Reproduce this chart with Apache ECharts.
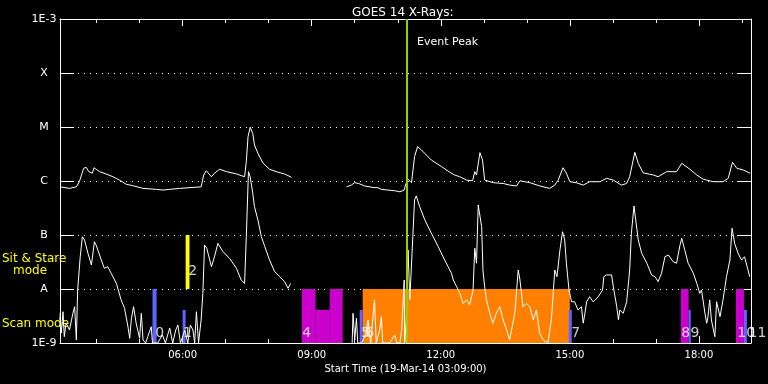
<!DOCTYPE html>
<html>
<head>
<meta charset="utf-8">
<script src="https://cdn.jsdelivr.net/npm/echarts@6/dist/echarts.min.js"></script>
<style>html,body{margin:0;padding:0;background:#000;}#c{width:768px;height:384px;}</style>
</head>
<body>
<div id="c"></div>
<script>
// ---- data (hours of 19-Mar-2014, flux W/m^2) ----
const titleText = 'GOES 14 X-Rays:';
const xAxisName = 'Start Time (19-Mar-14 03:09:00)';
const startHour = 3.15;
const endHour = 19.21;
const majorHours = [6, 9, 12, 15, 18];
const minorHours = [4, 5, 6, 7, 8, 9, 10, 11, 12, 13, 14, 15, 16, 17, 18, 19];
const yTickLabels = ['1E-9', 'A', 'B', 'C', 'M', 'X', '1E-3']; // 1e-9 ... 1e-3
const eventPeakHour = 11.2;

const longChannel = [
[3.15,7.8e-7],[3.37,7.3e-7],[3.53,7.8e-7],[3.60,9.7e-7],[3.70,1.72e-6],[3.76,1.79e-6],[3.82,1.49e-6],[3.90,1.39e-6],
[3.94,1.76e-6],[3.99,1.65e-6],[4.07,1.49e-6],[4.22,1.35e-6],[4.38,1.2e-6],[4.53,1.04e-6],[4.69,8.7e-7],[4.84,8.2e-7],
[5.08,7.3e-7],[5.39,7.0e-7],[5.54,6.8e-7],[5.70,7.0e-7],[5.93,7.3e-7],[6.24,7.6e-7],[6.43,7.8e-7],[6.49,1.29e-6],
[6.55,1.55e-6],[6.67,1.2e-6],[6.74,1.39e-6],[6.86,1.65e-6],[7.02,1.49e-6],[7.25,1.35e-6],[7.44,1.2e-6],[7.48,2.28e-6],
[7.52,6.6e-6],[7.57,9.9e-6],[7.63,7.6e-6],[7.67,4.64e-6],[7.75,3.26e-6],[7.87,2.13e-6],[8.02,1.65e-6],[8.22,1.45e-6],
[8.37,1.35e-6],[8.53,1.17e-6],[8.9,null],
[9.81,7.8e-7],[9.92,8.4e-7],[10.0,9.3e-7],[10.09,9.0e-7],[10.23,8.1e-7],[10.42,7.6e-7],[10.54,7.5e-7],[10.62,7.0e-7],
[10.77,6.8e-7],[10.93,6.6e-7],[11.05,6.3e-7],[11.15,6.8e-7],[11.18,8.4e-7],[11.24,1.08e-6],[11.32,9.3e-7],[11.35,9.0e-7],
[11.39,2.82e-6],[11.46,4.32e-6],[11.55,3.75e-6],[11.78,2.45e-6],[12.02,1.84e-6],[12.21,1.45e-6],[12.32,1.29e-6],[12.44,1.2e-6],
[12.60,1.04e-6],[12.74,1.01e-6],[12.79,1.49e-6],[12.83,1.29e-6],[12.91,3.34e-6],[12.97,2.45e-6],[13.02,1.04e-6],[13.22,9.3e-7],
[13.45,9.0e-7],[13.60,8.4e-7],[13.76,8.1e-7],[13.84,1.01e-6],[14.07,9.3e-7],[14.30,8.1e-7],[14.53,7.3e-7],[14.65,8.4e-7],
[14.73,1.04e-6],[14.84,1.76e-6],[14.92,1.39e-6],[15.0,9.7e-7],[15.15,9.3e-7],[15.31,8.4e-7],[15.46,9.7e-7],[15.70,9.7e-7],
[15.85,1.12e-6],[16.01,1.04e-6],[16.2,8.4e-7],[16.32,9.0e-7],[16.39,1.2e-6],[16.51,3.4e-6],[16.59,2.13e-6],[16.70,1.42e-6],
[16.94,1.29e-6],[17.05,1.2e-6],[17.25,1.49e-6],[17.48,1.49e-6],[17.60,2.13e-6],[17.79,1.65e-6],[17.95,1.29e-6],[18.10,1.08e-6],
[18.33,9.7e-7],[18.56,9.7e-7],[18.68,1.12e-6],[18.78,2.22e-6],[18.88,1.72e-6],[19.03,1.6e-6],[19.19,1.39e-6]
];

const shortChannel = [
[3.15,3.55e-9],[3.18,1.53e-9],[3.22,3.8e-9],[3.25,1.31e-9],[3.29,2.35e-9],[3.37,1.74e-9],[3.45,3.55e-9],[3.49,4.7e-9],
[3.53,1.14e-9],[3.56,9.6e-9],[3.62,3.96e-8],[3.67,9.3e-8],[3.72,8.1e-8],[3.80,4.58e-8],[3.88,2.78e-8],[3.95,7.5e-8],
[3.99,6.5e-8],[4.11,3.44e-8],[4.18,2.42e-8],[4.26,2.59e-8],[4.34,1.95e-8],[4.46,1.27e-8],[4.57,6.3e-9],[4.65,4.4e-9],
[4.73,2.0e-9],[4.77,1.22e-9],[4.81,2.87e-9],[4.86,4.7e-9],[4.92,2.32e-9],[5.0,1.22e-9],[5.04,3.55e-9],[5.08,1.14e-9],
[5.14,1e-9],[5.19,1.31e-9],[5.27,2.0e-9],[5.30,1e-9],[5.42,1e-9],[5.53,1.41e-9],[5.60,1e-9],[5.70,1.9e-9],
[5.77,1e-9],[5.84,1.74e-9],[5.89,2.15e-9],[5.95,1e-9],[6.05,1.74e-9],[6.12,1e-9],[6.18,2.15e-9],[6.24,1.74e-9],
[6.28,1e-9],[6.32,3.8e-9],[6.37,1e-9],[6.43,2.67e-9],[6.47,8.3e-9],[6.51,6.5e-8],[6.56,5.7e-8],[6.67,2.59e-8],
[6.74,3.96e-8],[6.82,7.0e-8],[6.94,4.9e-8],[7.09,3.7e-8],[7.25,2.42e-8],[7.36,1.47e-8],[7.44,1.27e-8],[7.48,9.3e-8],
[7.53,1.49e-6],[7.57,1.2e-6],[7.63,5.9e-7],[7.67,3.34e-7],[7.75,1.9e-7],[7.83,9.3e-8],[7.91,6.1e-8],[8.02,3.44e-8],
[8.14,2.09e-8],[8.26,1.69e-8],[8.37,1.37e-8],[8.45,1.03e-8],[8.51,1.27e-8],[8.9,null],
[9.94,1e-9],[9.96,3.55e-9],[10.0,1.14e-9],[10.04,2.9e-9],[10.07,1e-9],[10.16,1e-9],[10.25,1.41e-9],[10.31,2.67e-9],
[10.37,1e-9],[10.46,6.3e-9],[10.50,1e-9],[10.58,1.74e-9],[10.62,3.07e-9],[10.65,1e-9],[10.81,1e-9],[10.93,1.41e-9],
[10.98,1e-9],[11.05,1e-9],[11.09,1.74e-9],[11.15,1.47e-8],[11.16,1e-9],[11.2,2.67e-9],[11.24,5.3e-8],[11.28,6.3e-9],
[11.32,6.7e-9],[11.35,9.3e-8],[11.39,4.45e-7],[11.43,5.3e-7],[11.51,3.34e-7],[11.63,1.9e-7],[11.78,1.08e-7],[11.94,6.1e-8],
[12.09,3.44e-8],[12.17,2.59e-8],[12.25,1.95e-8],[12.29,1.47e-8],[12.37,1.1e-8],[12.44,8.3e-9],[12.52,5.4e-9],[12.60,6.3e-9],
[12.67,5.05e-9],[12.75,9.6e-9],[12.79,5.7e-8],[12.83,3.0e-8],[12.87,3.59e-7],[12.91,3.59e-7],[12.95,1.42e-7],[12.98,2.25e-8],
[13.02,1.1e-8],[13.06,6.3e-9],[13.14,3.55e-9],[13.21,2.32e-9],[13.29,3.55e-9],[13.37,4.7e-9],[13.45,2.67e-9],[13.53,1.74e-9],
[13.60,1.14e-9],[13.72,3.55e-9],[13.80,2.25e-8],[13.84,1.47e-8],[13.91,4.7e-9],[13.99,5.4e-9],[14.07,4.7e-9],[14.15,2.67e-9],
[14.22,4.08e-9],[14.30,1.51e-9],[14.38,1.14e-9],[14.49,1e-9],[14.57,2.67e-9],[14.65,2.25e-8],[14.70,1.69e-8],[14.77,5.3e-8],
[14.83,1.15e-7],[14.88,8.1e-8],[14.92,3.0e-8],[14.98,9.6e-9],[15.04,5.8e-9],[15.11,5.8e-9],[15.19,4.08e-9],[15.27,4.7e-9],
[15.31,2.32e-9],[15.35,3.55e-9],[15.39,5.8e-9],[15.46,7.2e-9],[15.54,5.8e-9],[15.66,7.2e-9],[15.76,9.6e-9],[15.79,1.69e-8],
[15.85,1.82e-8],[15.97,1.82e-8],[16.01,1.1e-8],[16.09,4.7e-9],[16.13,2.67e-9],[16.16,4.08e-9],[16.24,3.55e-9],[16.32,5.8e-9],
[16.39,2.25e-8],[16.43,1.08e-7],[16.49,3.44e-7],[16.53,1.9e-7],[16.59,8.1e-8],[16.67,4.58e-8],[16.79,3.0e-8],[16.90,1.82e-8],
[16.98,1.69e-8],[17.05,1.37e-8],[17.13,1.95e-8],[17.21,3.96e-8],[17.29,4.26e-8],[17.40,3.2e-8],[17.48,3.0e-8],[17.56,6.5e-8],
[17.60,8.7e-8],[17.67,5.3e-8],[17.75,3.0e-8],[17.87,1.95e-8],[17.95,1.27e-8],[18.02,8.3e-9],[18.06,9.6e-9],[18.14,3.55e-9],
[18.18,2.32e-9],[18.21,3.07e-9],[18.25,6.3e-9],[18.29,2.67e-9],[18.37,1.31e-9],[18.41,5.8e-9],[18.49,3.07e-9],[18.56,6.3e-9],
[18.64,1.69e-8],[18.72,3.44e-8],[18.77,1.33e-7],[18.83,7.0e-8],[18.91,4.58e-8],[18.99,3.44e-8],[19.06,3.96e-8],[19.14,2.25e-8],
[19.18,1.69e-8]
];

// observing-mode blocks: [startHour, endHour, lowFlux, highFlux]
const orangeBlocks = [[10.185, 15.0, 1e-9, 1e-8]];
const magentaBlocks = [[8.77, 9.09, 1e-9, 1e-8], [9.09, 9.42, 1e-9, 4.1e-9], [9.42, 9.72, 1e-9, 1e-8],
  [17.58, 17.76, 1e-9, 1e-8], [18.86, 19.045, 1e-9, 1e-8]];
const blueBlocks = [[5.30, 5.395, 1e-9, 1e-8], [6.0, 6.07, 1e-9, 4.1e-9], [10.115, 10.185, 1e-9, 4.1e-9],
  [14.975, 15.045, 1e-9, 4.1e-9], [17.76, 17.81, 1e-9, 4.1e-9], [19.045, 19.115, 1e-9, 4.1e-9]];
const yellowBlocks = [[6.07, 6.16, 1e-8, 1e-7]];

// block numbers: [hour, flux, label]
const blockLabels = [[5.35, 1.53e-9, '0'], [6.0, 1.53e-9, '1'], [6.12, 2.15e-8, '2'], [8.77, 1.53e-9, '4'],
  [10.14, 1.53e-9, '5'], [10.23, 1.53e-9, '6'], [15.02, 1.53e-9, '7'], [17.58, 1.53e-9, '8'],
  [17.79, 1.53e-9, '9'], [18.88, 1.53e-9, '10'], [19.14, 1.53e-9, '11']];

// ---- chart ----
const FONT = 'DejaVu Sans';
const pad = h => (h < 10 ? '0' : '') + h + ':00';

function renderBlock(params, api) {
  const p0 = api.coord([api.value(0), api.value(3)]);
  const p1 = api.coord([api.value(1), api.value(2)]);
  return { type: 'rect', shape: { x: p0[0], y: p0[1], width: p1[0] - p0[0], height: p1[1] - p0[1] },
           style: { fill: api.visual('color') } };
}
function blockSeries(data, color) {
  return { type: 'custom', renderItem: renderBlock, data: data, encode: { x: [0, 1], y: [2, 3] },
           itemStyle: { color: color }, z: 1, silent: true };
}

const xBase = { type: 'value', min: startHour, max: endHour, splitLine: { show: false } };
const white = { color: '#ffffff', width: 1 };

const chart = echarts.init(document.getElementById('c'), null, { renderer: 'canvas' });
chart.setOption({
  animation: false,
  backgroundColor: '#000000',
  textStyle: { fontFamily: FONT, color: '#ffffff' },
  title: { text: titleText, left: 347, top: 2,
           textStyle: { color: '#ffffff', fontFamily: FONT, fontSize: 12, fontWeight: 'normal' } },
  grid: { left: 60, right: 17, top: 19, bottom: 41 },
  xAxis: [
    Object.assign({}, xBase, { position: 'bottom', axisLine: { lineStyle: white },
      axisTick: { inside: true, length: 4, lineStyle: white, customValues: minorHours },
      axisLabel: { customValues: majorHours, formatter: v => pad(Math.round(v)), color: '#ffffff',
                   fontFamily: FONT, fontSize: 10, margin: 7 },
      name: xAxisName, nameLocation: 'middle', nameGap: 20,
      nameTextStyle: { color: '#ffffff', fontFamily: FONT, fontSize: 10 } }),
    Object.assign({}, xBase, { position: 'bottom', axisLine: { show: false },
      axisTick: { inside: true, length: 7, lineStyle: white, customValues: majorHours },
      axisLabel: { show: false } }),
    Object.assign({}, xBase, { position: 'top', axisLine: { lineStyle: white },
      axisTick: { inside: true, length: 4, lineStyle: white, customValues: minorHours },
      axisLabel: { show: false } }),
    Object.assign({}, xBase, { position: 'top', axisLine: { show: false },
      axisTick: { inside: true, length: 7, lineStyle: white, customValues: majorHours },
      axisLabel: { show: false } })
  ],
  yAxis: [
    { type: 'log', logBase: 10, min: 1e-9, max: 1e-3, interval: 1, position: 'left',
      axisLine: { lineStyle: white },
      axisTick: { inside: true, length: 14, lineStyle: white },
      axisLabel: { formatter: v => yTickLabels[Math.round(Math.log10(v)) + 9] || '', color: '#ffffff',
                   fontFamily: FONT, fontSize: 11, align: 'center', margin: 16 },
      splitLine: { show: true, lineStyle: { color: '#ffffff', width: 1, type: [1, 5] } } },
    { type: 'log', logBase: 10, min: 1e-9, max: 1e-3, interval: 1, position: 'right',
      axisLine: { lineStyle: white },
      axisTick: { inside: true, length: 14, lineStyle: white },
      axisLabel: { show: false }, splitLine: { show: false } }
  ],
  series: [
    blockSeries(orangeBlocks, '#ff8000'),
    blockSeries(magentaBlocks, '#cc00cc'),
    blockSeries(blueBlocks, '#6262ff'),
    blockSeries(yellowBlocks, '#ffff00'),
    { type: 'line', data: longChannel, showSymbol: false, connectNulls: false, z: 2,
      lineStyle: { color: '#ffffff', width: 1 }, itemStyle: { color: '#ffffff' } },
    { type: 'line', data: shortChannel, showSymbol: false, connectNulls: false, z: 2,
      lineStyle: { color: '#ffffff', width: 1 }, itemStyle: { color: '#ffffff' } },
    { type: 'line', data: [], z: 3,
      markLine: { silent: true, symbol: ['none', 'none'], label: { show: false },
                  lineStyle: { color: '#9acd00', width: 2, type: 'solid' },
                  data: [{ xAxis: eventPeakHour }] } },
    { type: 'scatter', data: blockLabels, symbolSize: 1, z: 4, itemStyle: { color: 'transparent' },
      label: { show: true, position: 'right', distance: 0, align: 'left', verticalAlign: 'middle',
               formatter: p => p.data[2], color: '#ffffff', fontFamily: FONT, fontSize: 14 } }
  ],
  graphic: [
    { type: 'text', left: 417, top: 37, style: { text: 'Event Peak', fill: '#ffffff', font: '11px "DejaVu Sans"' } },
    { type: 'text', left: 2, top: 253, style: { text: 'Sit & Stare', fill: '#ffff00', font: '12px "DejaVu Sans"' } },
    { type: 'text', left: 13, top: 265, style: { text: 'mode', fill: '#ffff00', font: '12px "DejaVu Sans"' } },
    { type: 'text', left: 2, top: 318, style: { text: 'Scan mode', fill: '#ffff00', font: '12px "DejaVu Sans"' } }
  ]
});
</script>
</body>
</html>
